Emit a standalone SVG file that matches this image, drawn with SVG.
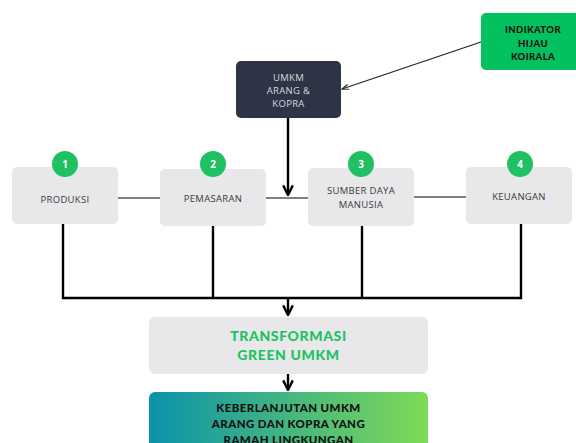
<svg xmlns="http://www.w3.org/2000/svg" width="576" height="443" viewBox="0 0 576 443">
<style>
.box{fill:#e8e8ea}
.lbl{font-family:"Open Sans","Liberation Sans",sans-serif;font-size:9.5px;fill:#3a3a3a;text-anchor:middle;letter-spacing:0.3px}
.num{font-family:"Open Sans","Liberation Sans",sans-serif;font-size:10px;font-weight:700;fill:#ffffff;text-anchor:middle}
.circ{fill:#1fc162}
.bus{stroke:#000;stroke-width:2.4;fill:none}
.thin{stroke:#555;stroke-width:1.3;fill:none}
</style>
<defs>
<linearGradient id="g" x1="0" y1="0" x2="1" y2="0">
<stop offset="0" stop-color="#0b92aa"/>
<stop offset="1" stop-color="#7fda56"/>
</linearGradient>
<marker id="ah" viewBox="0 0 10 10" refX="9" refY="5" markerWidth="5" markerHeight="5" orient="auto">
<path d="M1,1 L9,5 L1,9" fill="none" stroke="#000" stroke-width="2"/>
</marker>
<marker id="ahs" viewBox="0 0 10 10" refX="9" refY="5" markerWidth="7" markerHeight="7" orient="auto">
<path d="M1,2 L9,5 L1,8" fill="none" stroke="#222" stroke-width="1.3"/>
</marker>
</defs>
<rect width="576" height="443" fill="#ffffff"/>
<g id="connectors">
<line class="thin" x1="118" y1="198" x2="160" y2="198"/>
<line class="thin" x1="266" y1="198" x2="308" y2="198"/>
<line class="thin" x1="414" y1="197" x2="466" y2="197"/>
<line x1="481" y1="42" x2="342" y2="89" stroke="#222" stroke-width="1.2" marker-end="url(#ahs)"/>
<line class="bus" x1="288" y1="118" x2="288" y2="195" marker-end="url(#ah)"/>
<polyline class="bus" points="63,224 63,298 521,298 521,224"/>
<line class="bus" x1="213" y1="226" x2="213" y2="298"/>
<line class="bus" x1="362" y1="226" x2="362" y2="298"/>
<line class="bus" x1="288" y1="298" x2="288" y2="315" marker-end="url(#ah)"/>
<line class="bus" x1="288" y1="374" x2="288" y2="390" marker-end="url(#ah)"/>
</g>
<g id="indikator">
<rect x="481" y="13" width="100" height="57" rx="5" fill="#04c15f"/>
<text font-family="Lato,'Liberation Sans',sans-serif" font-size="9.5" font-weight="900" fill="#111" text-anchor="middle" letter-spacing="0.4"><tspan x="533" y="33">INDIKATOR</tspan><tspan x="533" y="46.5">HIJAU</tspan><tspan x="533" y="60">KOIRALA</tspan></text>
</g>
<g id="umkm">
<rect x="236" y="61" width="105" height="57" rx="5" fill="#2e3446"/>
<text font-family="'Open Sans','Liberation Sans',sans-serif" font-size="9.5" fill="#d4d7de" text-anchor="middle" letter-spacing="0.3"><tspan x="288.5" y="80.5">UMKM</tspan><tspan x="288.5" y="93.5">ARANG &amp;</tspan><tspan x="288.5" y="106.5">KOPRA</tspan></text>
</g>
<g id="produksi">
<rect class="box" x="12" y="167" width="106" height="57" rx="5"/>
<text class="lbl" x="65" y="202.5">PRODUKSI</text>
<circle class="circ" cx="65" cy="164" r="13"/>
<text class="num" x="65" y="167.5">1</text>
</g>
<g id="pemasaran">
<rect class="box" x="160" y="169" width="106" height="57" rx="5"/>
<text class="lbl" x="213" y="201.5">PEMASARAN</text>
<circle class="circ" cx="213" cy="164" r="13"/>
<text class="num" x="213" y="167.5">2</text>
</g>
<g id="sdm">
<rect class="box" x="308" y="168" width="106" height="58" rx="5"/>
<text class="lbl"><tspan x="361" y="194">SUMBER DAYA</tspan><tspan x="361" y="208">MANUSIA</tspan></text>
<circle class="circ" cx="361" cy="164" r="13"/>
<text class="num" x="361" y="167.5">3</text>
</g>
<g id="keuangan">
<rect class="box" x="466" y="167" width="106" height="57" rx="5"/>
<text class="lbl" x="519" y="199.5">KEUANGAN</text>
<circle class="circ" cx="520" cy="164" r="13"/>
<text class="num" x="520" y="167.5">4</text>
</g>
<g id="transformasi">
<rect class="box" x="149" y="317" width="279" height="57" rx="6"/>
<text font-family="Lato,'Liberation Sans',sans-serif" font-size="14" font-weight="900" fill="#1ec163" text-anchor="middle" letter-spacing="0.6"><tspan x="288.5" y="341">TRANSFORMASI</tspan><tspan x="288.5" y="360">GREEN UMKM</tspan></text>
</g>
<g id="keberlanjutan">
<rect x="149" y="392" width="279" height="60" rx="6" fill="url(#g)"/>
<text font-family="Lato,'Liberation Sans',sans-serif" font-size="11.5" font-weight="900" fill="#111" text-anchor="middle" letter-spacing="0.4"><tspan x="288.5" y="412">KEBERLANJUTAN UMKM</tspan><tspan x="288.5" y="428">ARANG DAN KOPRA YANG</tspan><tspan x="288.5" y="444">RAMAH LINGKUNGAN</tspan></text>
</g>
</svg>
